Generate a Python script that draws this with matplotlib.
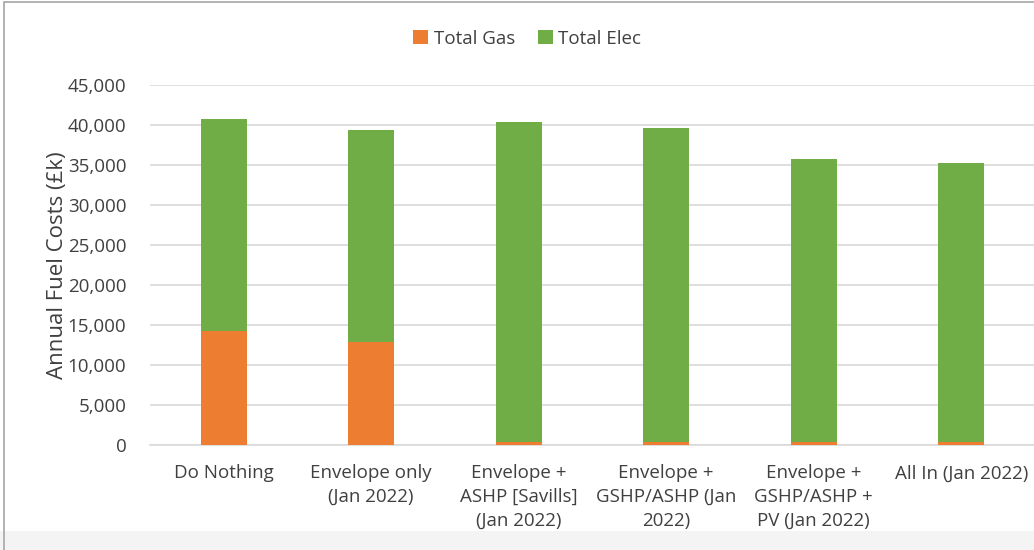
import matplotlib.pyplot as plt
from matplotlib.patches import Rectangle
import numpy as np

plt.rcParams['font.family'] = ['Open Sans', 'DejaVu Sans']

categories = ["Do Nothing", "Envelope only\n(Jan 2022)", "Envelope +\nASHP [Savills]\n(Jan 2022)",
              "Envelope +\nGSHP/ASHP (Jan\n2022)", "Envelope +\nGSHP/ASHP +\nPV (Jan 2022)", "All In (Jan 2022)"]
total_gas = [14200, 12900, 400, 400, 400, 400]
total_elec = [26600, 26500, 40000, 39200, 35400, 34900]
yticks = [0, 5000, 10000, 15000, 20000, 25000, 30000, 35000, 40000, 45000]

gas_col = '#ED7D31'
elec_col = '#70AD47'

fig = plt.figure(figsize=(10.34, 5.5), dpi=100)
ax = fig.add_axes([0.145, 0.191, 0.856, 0.654])

x = np.arange(len(categories))
ax.bar(x, total_gas, width=0.31, color=gas_col, label='Total Gas', zorder=3)
ax.bar(x, total_elec, width=0.31, bottom=total_gas, color=elec_col, label='Total Elec', zorder=3)

ax.set_xlim(-0.5, len(categories) - 0.5)
ax.set_ylim(0, 45000)
ax.set_yticks(yticks)
ax.set_yticklabels([f"{v:,}" for v in yticks])
ax.set_xticks(x)
ax.set_xticklabels(categories, va='top', linespacing=1.42, fontsize=13.2)
ax.tick_params(axis='both', length=0, labelsize=13.5, colors='#404040')
ax.tick_params(axis='y', pad=17)
ax.tick_params(axis='x', pad=14)
ax.grid(axis='y', color='#d9d9d9', linewidth=1.2, zorder=0)
for s in ['top', 'right', 'left']:
    ax.spines[s].set_visible(False)
ax.spines['bottom'].set_color('#d9d9d9')
ax.spines['bottom'].set_linewidth(1.2)
ax.set_ylabel("Annual Fuel Costs (£k)", fontsize=16, color='#404040', labelpad=0)

fig.legend(loc='center', bbox_to_anchor=(0.51, 0.93), ncol=2, frameon=False,
           fontsize=13.5, handlelength=0.8, handleheight=0.8, handletextpad=0.3,
           columnspacing=1.2, labelcolor='#404040')

# light grey strip at the bottom and frame around the chart
fig.patches.append(Rectangle((0.0, 0.0), 1.0, 0.035, transform=fig.transFigure,
                             facecolor='#f4f4f4', edgecolor='none'))
fig.patches.append(Rectangle((0.004, -0.1), 1.2, 1.096, transform=fig.transFigure,
                             fill=False, edgecolor='#a6a6a6', linewidth=1.2))

fig.savefig('out.png', dpi=100)
